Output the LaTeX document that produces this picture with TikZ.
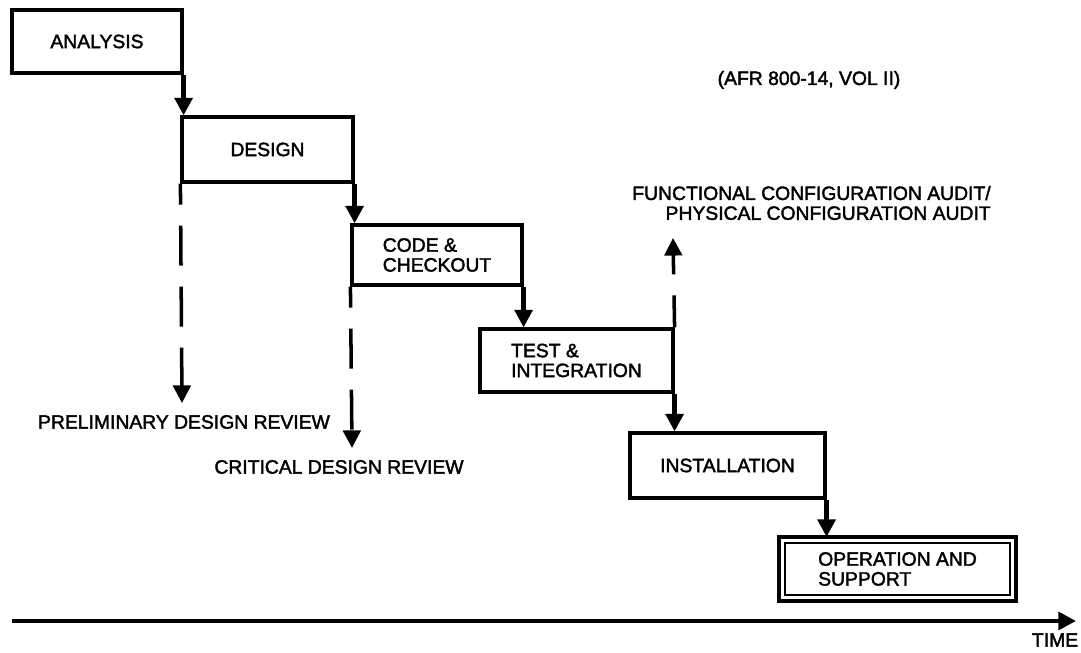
\documentclass[tikz,border=0pt]{standalone}
\usepackage{fontspec}
\setmainfont{Liberation Sans}[FakeBold=2]
\usetikzlibrary{arrows.meta}

\begin{document}
\begin{tikzpicture}[
  font=\fontsize{11}{11.3}\selectfont,
  stage/.style={draw, line width=1.8pt, align=left, inner sep=0pt},
  last/.style={stage, line width=2.8pt, outer sep=0pt},
  flow/.style={line width=3pt, -{Triangle[width=10pt,length=10pt]}},
  review/.style={line width=2pt, dash pattern=on 0.8cm off 0.42cm, dash phase=0.38cm,
                 -{Triangle[width=10pt,length=10pt]}},
  axis/.style={line width=2.4pt, -{Triangle[width=10pt,length=10pt]}},
  tag/.style={align=center},
]
\useasboundingbox (0,0) rectangle (21.62,13.06);

% phases, stepping down in time
\node[stage, minimum width=3.40cm, minimum height=1.26cm] (ana)  at (1.94, 12.23) {ANALYSIS};
\node[stage, minimum width=3.42cm, minimum height=1.30cm] (des)  at (5.35, 10.07) {DESIGN};
\node[stage, minimum width=3.40cm, minimum height=1.20cm] (code) at (8.74, 7.96) {CODE \&\\CHECKOUT};
\node[stage, minimum width=3.86cm, minimum height=1.26cm] (test) at (11.53, 5.85) {TEST \&\\INTEGRATION};
\node[stage, minimum width=3.90cm, minimum height=1.30cm] (inst) at (14.55, 3.75) {INSTALLATION};
\node[last,  minimum width=4.74cm, minimum height=1.28cm] (ops)  at (17.95, 1.68) {OPERATION AND\\SUPPORT};
% inner rule of the double frame
\draw[line width=0.8pt] ([shift={(0.12,0.12)}]ops.south west) rectangle ([shift={(-0.12,-0.12)}]ops.north east);

\draw[flow] (ana.south east)  -- (ana.south east |- des.north);
\draw[flow] (des.south east)  -- (des.south east |- code.north);
\draw[flow] (code.south east) -- (code.south east |- test.north);
\draw[flow] (test.south east) -- (test.south east |- inst.north);
\draw[flow] (inst.south east) -- (inst.south east |- ops.north);

% reviews and audits
\coordinate (pdrtip) at (3.64, 5.00);
\coordinate (cdrtip) at (7.04, 4.10);
\coordinate (fcatip) at (13.46, 8.30);
\draw[review] (des.south west)  -- (pdrtip);
\draw[review] (code.south west) -- (cdrtip);
\draw[review, dash phase=0.16cm] (test.north east) -- (fcatip);

\node[tag] (pdr) at (3.68, 4.62) {PRELIMINARY DESIGN REVIEW};
\node[tag] (cdr) at (6.78, 3.72) {CRITICAL DESIGN REVIEW};
\node[align=right] (fca) at (16.23, 9.00) {FUNCTIONAL CONFIGURATION AUDIT/\\PHYSICAL CONFIGURATION AUDIT};
\node[tag] (afr) at (16.18, 11.46) {(AFR 800-14, VOL II)};

% time axis
\coordinate (t0) at (0.24, 0.64);
\coordinate (t1) at (21.52, 0.64);
\draw[axis] (t0) -- (t1);
\node[tag] (time) at (21.10, 0.26) {TIME};

\end{tikzpicture}
\end{document}
